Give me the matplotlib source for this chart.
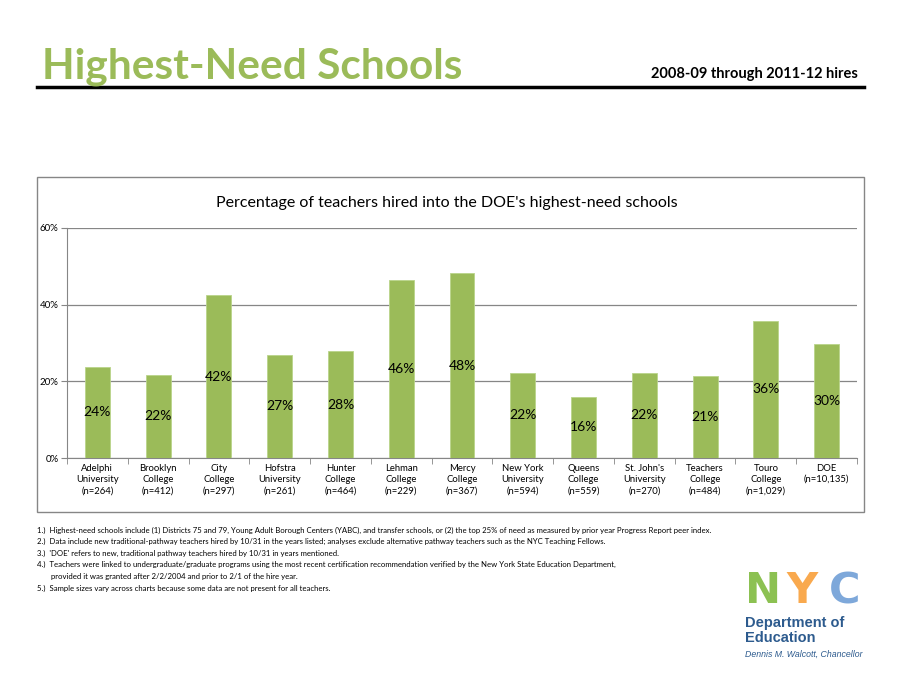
import matplotlib.pyplot as plt
from matplotlib.patches import Rectangle
from matplotlib.lines import Line2D
from matplotlib.ticker import PercentFormatter

plt.rcParams['font.family'] = ['Lato', 'DejaVu Sans']

# data
schools = ['Adelphi\nUniversity\n(n=264)', 'Brooklyn\nCollege\n(n=412)', 'City\nCollege\n(n=297)',
           'Hofstra\nUniversity\n(n=261)', 'Hunter\nCollege\n(n=464)', 'Lehman\nCollege\n(n=229)',
           'Mercy\nCollege\n(n=367)', 'New York\nUniversity\n(n=594)', 'Queens\nCollege\n(n=559)',
           "St. John's\nUniversity\n(n=270)", 'Teachers\nCollege\n(n=484)', 'Touro\nCollege\n(n=1,029)',
           'DOE\n(n=10,135)']
pct = [23.8, 21.7, 42.5, 26.9, 27.9, 46.4, 48.2, 22.3, 16.0, 22.3, 21.3, 35.8, 29.7]
labels = ['24%', '22%', '42%', '27%', '28%', '46%', '48%', '22%', '16%', '22%', '21%', '36%', '30%']

notes = [
    "1.)  Highest-need schools include (1) Districts 75 and 79, Young Adult Borough Centers (YABC), and transfer schools, or (2) the top 25% of need as measured by prior year Progress Report peer index.",
    "2.)  Data include new traditional-pathway teachers hired by 10/31 in the years listed; analyses exclude alternative pathway teachers such as the NYC Teaching Fellows.",
    "3.)  'DOE' refers to new, traditional pathway teachers hired by 10/31 in years mentioned.",
    "4.)  Teachers were linked to undergraduate/graduate programs using the most recent certification recommendation verified by the New York State Education Department,",
    "       provided it was granted after 2/2/2004 and prior to 2/1 of the hire year.",
    "5.)  Sample sizes vary across charts because some data are not present for all teachers.",
]

W, H = 900, 685
fig = plt.figure(figsize=(W / 100, H / 100), dpi=100)


def fx(x):
    return x / W


def fy(y):
    return 1 - y / H


GREEN = '#9BBB59'
GRID = '#868686'

# header
fig.text(fx(42), fy(79), 'Highest-Need Schools', color='#9BBB59', fontsize=30.5,
         fontweight='bold', ha='left', va='baseline')
fig.text(fx(858), fy(78), '2008-09 through 2011-12 hires', fontsize=10.5,
         fontweight='bold', ha='right', va='baseline')
fig.add_artist(Line2D([fx(37), fx(864)], [fy(87), fy(87)], color='black', lw=2.5))

# chart frame
fig.add_artist(Rectangle((fx(37), fy(512)), fx(864) - fx(37), fy(177) - fy(512),
                         fill=False, edgecolor=GRID, lw=1))
fig.text(fx(447), fy(203), "Percentage of teachers hired into the DOE's highest-need schools",
         fontsize=11.5, ha='center', va='center')

ax = fig.add_axes([fx(67), fy(458), fx(857) - fx(67), fy(228) - fy(458)])
x = range(len(pct))
bars = ax.bar(x, pct, width=0.41, color=GREEN, edgecolor='#B9D48A', linewidth=0.6, zorder=3)
for b, lab in zip(bars, labels):
    ax.text(b.get_x() + b.get_width() / 2, b.get_height() / 2, lab,
            ha='center', va='center', fontsize=10, zorder=4)

ax.set_xlim(-0.5, len(pct) - 0.5)
ax.set_ylim(0, 60)
ax.set_yticks([0, 20, 40, 60])
ax.yaxis.set_major_formatter(PercentFormatter(decimals=0))
ax.yaxis.grid(True, color=GRID, lw=0.9, zorder=0)
ax.set_xticks(list(x))
ax.set_xticklabels(schools, fontsize=6.8, linespacing=1.35)
ax.set_xticks([i - 0.5 for i in range(len(pct) + 1)], minor=True)
ax.tick_params(axis='x', which='major', length=0, pad=4)
ax.tick_params(axis='x', which='minor', length=4, color=GRID)
ax.tick_params(axis='y', length=4, color=GRID, labelsize=7, pad=2)
for s in ['top', 'right']:
    ax.spines[s].set_visible(False)
for s in ['left', 'bottom']:
    ax.spines[s].set_color(GRID)

# footnotes
for i, n in enumerate(notes):
    fig.text(fx(37), fy(530 + i * 11.6), n, fontsize=5.6, ha='left', va='center')

# logo
for letter, col, lx in [('N', '#8CC152', 745), ('Y', '#F9A94E', 786), ('C', '#7EA8DA', 829)]:
    fig.text(fx(lx), fy(603), letter, color=col, fontsize=31, fontweight='heavy',
             family=['DejaVu Sans'], ha='left', va='baseline')
fig.text(fx(745), fy(627), 'Department of', color='#2D5B8E', fontsize=10.5,
         fontweight='bold', family=['Liberation Sans'], ha='left', va='baseline')
fig.text(fx(745), fy(642), 'Education', color='#2D5B8E', fontsize=10.5,
         fontweight='bold', family=['Liberation Sans'], ha='left', va='baseline')
fig.text(fx(745), fy(657), 'Dennis M. Walcott, Chancellor', color='#2D5B8E', fontsize=6.3,
         style='italic', family=['Liberation Sans'], ha='left', va='baseline')

fig.savefig('out.png', dpi=100)
